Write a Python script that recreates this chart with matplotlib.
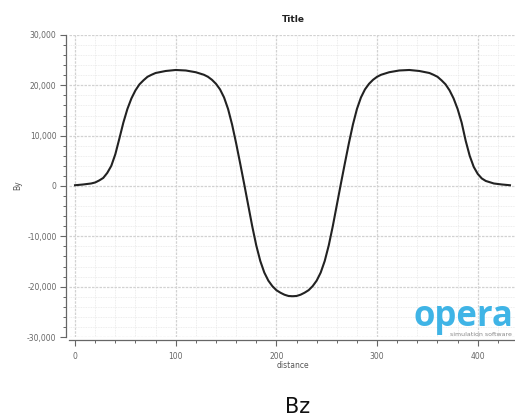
import matplotlib
matplotlib.use("Agg")
import matplotlib.pyplot as plt
from matplotlib.ticker import MultipleLocator, FuncFormatter

distance = [0, 8, 16, 20, 24, 28, 32, 36, 40, 44, 48, 52, 56, 60, 64, 68, 72, 76, 80, 90,
            100, 110, 120, 128, 132, 136, 140, 144, 148, 152, 156, 160, 164, 168, 172, 176,
            180, 184, 188, 192, 196, 200, 204, 208, 212, 216, 220, 224, 228, 232, 236, 240,
            244, 248, 252, 256, 260, 264, 268, 272, 276, 280, 284, 288, 292, 296, 300, 304,
            312, 322, 332, 342, 352, 356, 360, 364, 368, 372, 376, 380, 384, 388, 392, 396,
            400, 404, 408, 416, 424, 432]
by_values = [150, 300, 500, 700, 1100, 1600, 2600, 4000, 6300, 9400, 12600, 15300, 17400,
             19000, 20200, 21000, 21700, 22100, 22450, 22850, 23050, 22950, 22600, 22100,
             21700, 21100, 20300, 19200, 17600, 15300, 12200, 8500, 4500, 400, -3800, -8000,
             -11800, -14900, -17200, -18800, -19900, -20700, -21200, -21600, -21850, -21900,
             -21850, -21600, -21200, -20700, -19900, -18800, -17200, -14900, -11800, -8000,
             -3800, 400, 4500, 8500, 12200, 15300, 17600, 19200, 20300, 21100, 21700, 22100,
             22600, 22950, 23050, 22850, 22450, 22100, 21700, 21000, 20200, 19000, 17400,
             15300, 12600, 9000, 6000, 3800, 2400, 1500, 1000, 500, 300, 150]

title = "Title"
x_label = "distance"
y_label = "By"
caption = "Bz"

W, H = 515, 417
fig = plt.figure(figsize=(W / 100, H / 100), dpi=100)
fig.patch.set_facecolor("white")

ax = fig.add_axes([69 / W, 1 - 337 / H, (515 - 69) / W, (337 - 35) / H])
ax.plot(distance, by_values, color="#222222", lw=1.5, zorder=3,
        solid_joinstyle="round")

ax.set_xlim(-6, 437)
ax.set_ylim(-30000, 30000)

ax.xaxis.set_major_locator(MultipleLocator(100))
ax.xaxis.set_minor_locator(MultipleLocator(20))
ax.yaxis.set_major_locator(MultipleLocator(10000))
ax.yaxis.set_minor_locator(MultipleLocator(2000))
ax.yaxis.set_major_formatter(FuncFormatter(lambda v, p: f"{int(v):,}"))

ax.grid(which="major", color="#d2d2d2", lw=0.9, linestyle=(0, (2, 1)))
ax.grid(which="minor", color="#e8e8e8", lw=0.6, linestyle=(0, (1, 1)))
ax.set_axisbelow(True)

for s in ["top", "right"]:
    ax.spines[s].set_visible(False)
for s in ["left", "bottom"]:
    ax.spines[s].set_color("#666666")
    ax.spines[s].set_linewidth(0.9)
    ax.spines[s].set_position(("outward", 2))

ax.tick_params(which="major", length=4, width=0.8, color="#666666",
               labelsize=5.5, labelcolor="#666666", pad=3)
ax.tick_params(which="minor", length=2.5, width=0.7, color="#666666")
ax.tick_params(axis="x", which="major", pad=5)

fig.text(293 / W, 1 - 20 / H, title, ha="center", va="center",
         fontsize=6.5, fontweight="bold", color="#222222")
fig.text(18 / W, 1 - 185 / H, y_label, ha="center", va="center",
         fontsize=5.5, color="#555555", rotation=90)
fig.text(293 / W, 1 - 366 / H, x_label, ha="center", va="center",
         fontsize=5.5, color="#555555")
fig.text(298 / W, 1 - 413 / H, caption, ha="center", va="baseline",
         fontsize=15, color="#111111")

fig.text(513 / W, 1 - 326 / H, "opera", ha="right", va="baseline",
         fontsize=25, fontweight="bold", family="Open Sans", color="#3fb4e6")
fig.text(512 / W, 1 - 336 / H, "simulation software", ha="right", va="baseline",
         fontsize=4.5, color="#888888")

fig.savefig("out.png", dpi=100, facecolor="white")
